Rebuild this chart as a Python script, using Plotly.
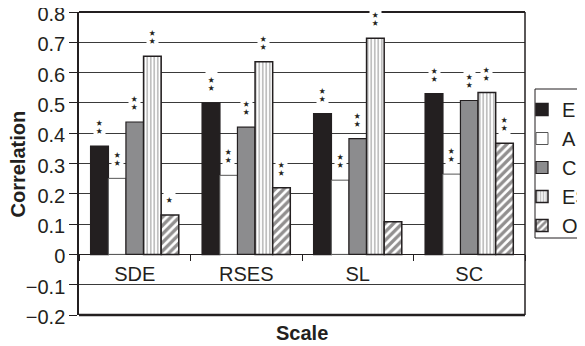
import plotly.graph_objects as go

# ---------------- data ----------------
categories = ["SDE", "RSES", "SL", "SC"]
series_names = ["E", "A", "C", "ES", "O"]

values_E = [0.357, 0.500, 0.464, 0.530]
values_A = [0.251, 0.261, 0.245, 0.265]
values_C = [0.437, 0.420, 0.382, 0.508]
values_ES = [0.654, 0.636, 0.713, 0.534]
values_O = [0.130, 0.220, 0.108, 0.367]

sig_E = ["**", "**", "**", "**"]
sig_A = ["**", "**", "**", "**"]
sig_C = ["**", "**", "**", "**"]
sig_ES = ["**", "**", "**", "**"]
sig_O = ["*", "**", "", "**"]

y_tickvals = [-0.2, -0.1, 0, 0.1, 0.2, 0.3, 0.4, 0.5, 0.6, 0.7, 0.8]
y_ticktext = ["\u22120.2", "\u22120.1", "0", "0.1", "0.2", "0.3", "0.4", "0.5", "0.6", "0.7", "0.8"]

x_title = "Scale"
y_title = "Correlation"

# ---------------- layout constants ----------------
OFF = 8                      # default page body margin
W, H = 585 - OFF, 346 - OFF
PW, PH = 446, 303
ML, MT = 79 - OFF, 12 - OFF
MR = W - ML - PW
MB = H - MT - PH
BARGAP = 0.21
FONT = "Liberation Sans, Arial, Helvetica, sans-serif"
INK = "#231f20"


def px_x(x):   # page pixel -> paper x
    return (x - ML - OFF) / PW


def px_y(y):   # page pixel -> paper y
    return (MT + OFF + PH - y) / PH


all_values = [values_E, values_A, values_C, values_ES, values_O]
all_sigs = [sig_E, sig_A, sig_C, sig_ES, sig_O]

markers = [
    dict(color=INK, line=dict(color=INK, width=1.5)),
    dict(color="white", line=dict(color="#555555", width=1)),
    dict(color="#8c8c8e", line=dict(color=INK, width=1.2)),
    dict(color="white", line=dict(color=INK, width=1.5),
         pattern=dict(shape="|", fgcolor="#808080", bgcolor="white", size=3.5, solidity=0.5)),
    dict(color="white", line=dict(color=INK, width=1.5),
         pattern=dict(shape="/", fgcolor=INK, bgcolor="white", size=6, solidity=0.55)),
]

fig = go.Figure()
for name, vals, mk in zip(series_names, all_values, markers):
    fig.add_trace(go.Bar(name=name, x=categories, y=vals, marker=mk))

# significance stars
n_series = len(series_names)
bar_px = PW / len(categories) * (1 - BARGAP) / n_series
annotations = []
for si, (vals, sigs) in enumerate(zip(all_values, all_sigs)):
    xs = (si - (n_series - 1) / 2) * bar_px
    for cat, v, s in zip(categories, vals, sigs):
        n = len(s)
        if n == 0:
            continue
        annotations.append(dict(x=cat, y=v, xref="x", yref="y", text="<br>".join(["\u2605"] * n),
                                showarrow=False, bgcolor="white", borderpad=2,
                                font=dict(family="Noto Sans CJK SC, DejaVu Sans", size=6.5, color=INK),
                                yanchor="bottom", xshift=xs, yshift=8))

# axis titles
annotations.append(dict(x=px_x(17), y=0.5, xref="paper", yref="paper", text="<b>%s</b>" % y_title,
                        textangle=-90, showarrow=False, font=dict(family=FONT, size=20, color=INK),
                        xanchor="center", yanchor="middle"))
annotations.append(dict(x=0.5, y=px_y(333), xref="paper", yref="paper",
                        text="<b>%s</b>" % x_title, showarrow=False,
                        font=dict(family=FONT, size=20, color=INK), xanchor="center", yanchor="middle"))

shapes = [
    dict(type="line", xref="paper", yref="paper", x0=0, x1=1, y0=0, y1=0, line=dict(color=INK, width=2.5)),
    dict(type="line", xref="paper", yref="paper", x0=0, x1=1, y0=1, y1=1, line=dict(color=INK, width=1.8)),
    dict(type="line", xref="paper", yref="paper", x0=1, x1=1, y0=0, y1=1, line=dict(color=INK, width=1.5)),
    # legend box
    dict(type="rect", xref="paper", yref="paper",
         x0=px_x(535), x1=px_x(620), y0=px_y(238), y1=px_y(89),
         line=dict(color=INK, width=1), fillcolor="rgba(0,0,0,0)"),
]

fig.update_layout(
    width=W, height=H,
    margin=dict(l=ML, r=MR, t=MT, b=MB, autoexpand=False),
    paper_bgcolor="white", plot_bgcolor="white",
    barmode="group", bargap=BARGAP, bargroupgap=0,
    font=dict(family=FONT, size=20, color=INK),
    showlegend=True,
    legend=dict(x=px_x(522), xanchor="left", y=px_y(90), yanchor="top",
                font=dict(family=FONT, size=20, color=INK), bgcolor="rgba(0,0,0,0)",
                borderwidth=0, traceorder="normal"),
    annotations=annotations,
    shapes=shapes,
    yaxis=dict(range=[-0.2, 0.8], tickvals=y_tickvals, ticktext=y_ticktext,
               showgrid=True, gridcolor="#3a3a3a", gridwidth=1,
               zeroline=True, zerolinecolor=INK, zerolinewidth=1.3,
               showline=True, linecolor=INK, linewidth=1.5,
               ticks="outside", ticklen=8, tickcolor=INK, tickwidth=1,
               ticklabeloverflow="allow", ticklabelshift=2,
               tickfont=dict(family=FONT, size=20, color=INK)),
    xaxis=dict(anchor="free", position=0.2, showgrid=False, showline=False, zeroline=False,
               ticks="outside", tickson="boundaries", ticklen=6, tickcolor=INK, tickwidth=1,
               ticklabelstandoff=6,
               tickfont=dict(family=FONT, size=20, color=INK)),
)

fig.write_html("out.html")
